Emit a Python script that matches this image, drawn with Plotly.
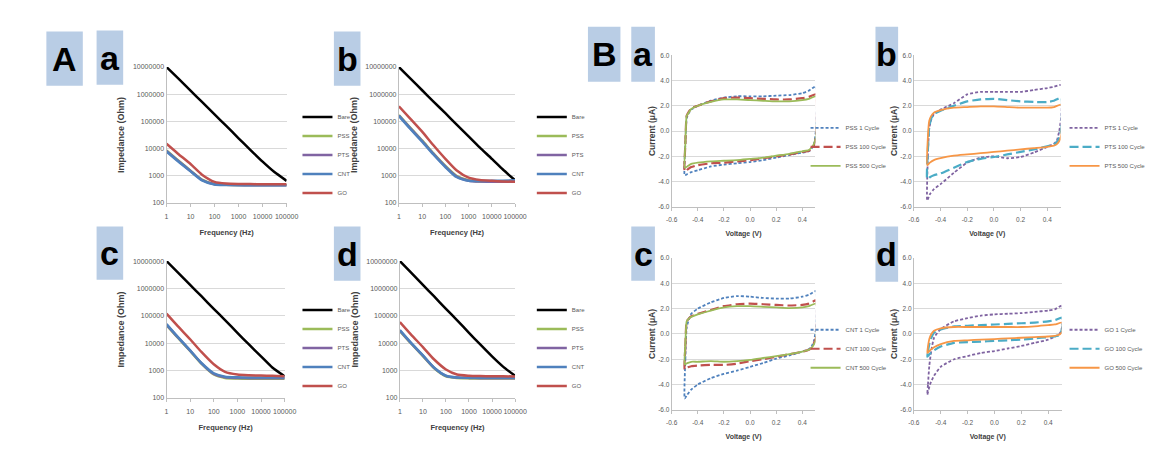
import plotly.graph_objects as go

# ---------------- Panel A : impedance vs frequency ----------------
FREQ = [1, 3, 10, 30, 100, 300, 1000, 3000, 10000, 30000, 100000]
FREQ_TICKS = [1, 10, 100, 1000, 10000, 100000]
FREQ_LABELS = ["1", "10", "100", "1000", "10000", "100000"]
Z_TICKS = [100, 1000, 10000, 100000, 1000000, 10000000]
Z_LABELS = ["100", "1000", "10000", "100000", "1000000", "10000000"]
SAMPLES = ["Bare", "PSS", "PTS", "CNT", "GO"]

# panel A-a
AA_BARE = [1.0e7, 3.9e6, 1.35e6, 5.2e5, 1.8e5, 7.0e4, 2.4e4, 9.2e3, 3.3e3, 1.4e3, 650]
AA_PSS = [8500, 3700, 1550, 720, 500, 470, 460, 455, 455, 455, 455]
AA_PTS = [8200, 3600, 1500, 700, 490, 465, 455, 450, 450, 450, 450]
AA_CNT = [7800, 3400, 1450, 680, 480, 460, 450, 445, 445, 445, 445]
AA_GO = [15000, 6500, 2700, 1100, 600, 520, 500, 495, 490, 490, 490]
# panel A-b
AB_BARE = [1.0e7, 3.9e6, 1.4e6, 5.5e5, 2.0e5, 7.8e4, 2.8e4, 1.1e4, 4.2e3, 1.7e3, 680]
AB_PSS = [1.7e5, 6.0e4, 2.0e4, 6.8e3, 2.3e3, 1.0e3, 680, 620, 610, 610, 600]
AB_PTS = [1.65e5, 5.8e4, 1.9e4, 6.5e3, 2.2e3, 950, 660, 610, 600, 600, 600]
AB_CNT = [1.6e5, 5.5e4, 1.8e4, 6.2e3, 2.1e3, 900, 650, 640, 650, 660, 680]
AB_GO = [3.6e5, 1.3e5, 4.2e4, 1.35e4, 4.2e3, 1.6e3, 850, 700, 650, 620, 600]
# panel A-c
AC_BARE = [1.0e7, 3.9e6, 1.35e6, 5.2e5, 1.8e5, 7.0e4, 2.4e4, 9.2e3, 3.3e3, 1.3e3, 620]
AC_PSS = [4.6e4, 1.6e4, 5.2e3, 1.8e3, 720, 540, 510, 500, 500, 500, 500]
AC_PTS = [4.8e4, 1.65e4, 5.4e3, 1.85e3, 760, 570, 540, 530, 530, 530, 530]
AC_CNT = [5.0e4, 1.7e4, 5.5e3, 1.9e3, 800, 600, 570, 560, 560, 560, 560]
AC_GO = [1.2e5, 4.2e4, 1.4e4, 4.8e3, 1.7e3, 900, 720, 680, 660, 650, 620]
# panel A-d
AD_BARE = [1.0e7, 3.9e6, 1.35e6, 5.2e5, 1.8e5, 7.0e4, 2.4e4, 9.2e3, 3.3e3, 1.4e3, 650]
AD_PSS = [2.8e4, 1.0e4, 3.4e3, 1.25e3, 620, 540, 520, 515, 510, 510, 510]
AD_PTS = [2.9e4, 1.02e4, 3.5e3, 1.28e3, 640, 555, 535, 530, 525, 525, 525]
AD_CNT = [3.0e4, 1.05e4, 3.6e3, 1.3e3, 650, 560, 550, 545, 545, 545, 545]
AD_GO = [5.9e4, 2.1e4, 7.2e3, 2.6e3, 1.1e3, 720, 650, 630, 620, 620, 610]

# ---------------- Panel B : cyclic voltammograms ----------------
V_TICKS = [-0.6, -0.4, -0.2, 0.0, 0.2, 0.4]
V_LABELS = ["-0.6", "-0.4", "-0.2", "0.0", "0.2", "0.4"]
I_TICKS = [-6, -4, -2, 0, 2, 4, 6]
I_LABELS = ["-6.0", "-4.0", "-2.0", "0.0", "2.0", "4.0", "6.0"]
COATINGS = ["PSS", "PTS", "CNT", "GO"]
CYCLES = ["1 Cycle", "100 Cycle", "500 Cycle"]

V_FWD = [-0.5, -0.495, -0.485, -0.47, -0.45, -0.4, -0.3, -0.2, -0.1, 0.0, 0.1, 0.2, 0.3, 0.4, 0.45, 0.505]
V_REV = [0.505, 0.49, 0.47, 0.45, 0.4, 0.3, 0.2, 0.1, 0.0, -0.1, -0.2, -0.3, -0.4, -0.45, -0.48, -0.5]

# B-a PSS
BA_1_FWD = [-3.5, -1.0, 1.0, 1.4, 1.7, 2.0, 2.4, 2.65, 2.75, 2.75, 2.75, 2.8, 2.85, 3.0, 3.2, 3.55]
BA_1_REV = [0.2, -1.0, -1.4, -1.6, -1.7, -1.9, -2.1, -2.3, -2.45, -2.55, -2.65, -2.8, -3.1, -3.25, -3.4, -3.5]
BA_100_FWD = [-3.2, -1.0, 1.2, 1.5, 1.8, 2.0, 2.35, 2.6, 2.65, 2.6, 2.55, 2.5, 2.5, 2.6, 2.7, 2.9]
BA_100_REV = [-0.4, -1.1, -1.4, -1.55, -1.65, -1.85, -2.0, -2.15, -2.3, -2.4, -2.5, -2.55, -2.7, -2.85, -3.05, -3.2]
BA_500_FWD = [-2.9, -1.0, 1.2, 1.45, 1.75, 2.0, 2.3, 2.5, 2.5, 2.45, 2.4, 2.35, 2.35, 2.45, 2.55, 2.75]
BA_500_REV = [-0.4, -1.0, -1.3, -1.5, -1.6, -1.8, -1.95, -2.1, -2.2, -2.3, -2.35, -2.4, -2.5, -2.6, -2.8, -2.9]
# B-b PTS
BB_1_FWD = [-5.5, -2.0, 0.2, 0.9, 1.35, 1.7, 2.2, 2.9, 3.1, 3.1, 3.1, 3.1, 3.25, 3.4, 3.5, 3.65]
BB_1_REV = [1.2, 0.0, -0.8, -1.0, -1.25, -1.7, -2.05, -2.15, -2.0, -2.1, -2.5, -3.3, -4.2, -4.6, -5.0, -5.5]
BB_100_FWD = [-3.8, -1.5, 0.3, 1.0, 1.35, 1.6, 2.0, 2.35, 2.5, 2.55, 2.45, 2.35, 2.3, 2.3, 2.4, 2.65]
BB_100_REV = [0.2, -0.5, -0.9, -1.05, -1.2, -1.45, -1.65, -1.85, -2.05, -2.2, -2.45, -2.9, -3.35, -3.5, -3.65, -3.8]
BB_500_FWD = [-2.7, -0.5, 0.8, 1.2, 1.45, 1.65, 1.85, 1.9, 1.95, 1.95, 1.9, 1.85, 1.85, 1.85, 1.9, 2.1]
BB_500_REV = [-0.3, -0.8, -1.05, -1.15, -1.25, -1.35, -1.45, -1.55, -1.65, -1.75, -1.85, -1.95, -2.15, -2.3, -2.5, -2.7]
# B-c CNT
BC_1_FWD = [-5.1, -2.0, 0.5, 1.1, 1.6, 2.0, 2.5, 2.85, 3.0, 2.95, 2.85, 2.8, 2.8, 2.95, 3.1, 3.4]
BC_1_REV = [0.5, -0.5, -1.0, -1.2, -1.4, -1.7, -1.95, -2.3, -2.6, -2.9, -3.15, -3.5, -4.0, -4.4, -4.8, -5.1]
BC_100_FWD = [-2.8, -1.0, 1.0, 1.2, 1.4, 1.6, 1.9, 2.2, 2.35, 2.4, 2.35, 2.3, 2.25, 2.3, 2.4, 2.65]
BC_100_REV = [-0.3, -0.7, -1.1, -1.25, -1.4, -1.6, -1.8, -2.0, -2.15, -2.35, -2.45, -2.45, -2.5, -2.55, -2.65, -2.8]
BC_500_FWD = [-2.4, -0.8, 1.0, 1.2, 1.35, 1.55, 1.85, 2.1, 2.2, 2.2, 2.15, 2.1, 2.05, 2.1, 2.2, 2.4]
BC_500_REV = [-0.4, -0.8, -1.1, -1.25, -1.4, -1.6, -1.75, -1.9, -2.05, -2.15, -2.2, -2.15, -2.2, -2.2, -2.3, -2.4]
# B-d GO
BD_1_FWD = [-4.8, -4.0, -2.5, -1.3, -0.3, 0.4, 1.0, 1.25, 1.45, 1.55, 1.6, 1.65, 1.75, 1.85, 1.95, 2.25]
BD_1_REV = [0.6, 0.1, -0.1, -0.2, -0.45, -0.7, -0.95, -1.15, -1.35, -1.5, -1.75, -2.0, -2.6, -3.3, -4.0, -4.8]
BD_100_FWD = [-1.8, -1.4, -0.8, -0.3, 0.1, 0.35, 0.6, 0.65, 0.7, 0.75, 0.8, 0.85, 0.9, 1.0, 1.1, 1.3]
BD_100_REV = [0.5, 0.0, -0.15, -0.2, -0.25, -0.35, -0.45, -0.5, -0.55, -0.6, -0.65, -0.7, -1.0, -1.3, -1.55, -1.8]
BD_500_FWD = [-1.5, -1.0, -0.4, 0.0, 0.25, 0.45, 0.55, 0.55, 0.55, 0.55, 0.55, 0.55, 0.6, 0.7, 0.75, 0.9]
BD_500_REV = [0.2, 0.0, -0.1, -0.15, -0.2, -0.25, -0.3, -0.35, -0.4, -0.45, -0.5, -0.55, -0.8, -1.05, -1.3, -1.5]

# ---------------- styling ----------------
W, H = 1175, 466
NARROW = "Liberation Sans Narrow, Arial Narrow, Liberation Sans, sans-serif"
GRID = "#d9d9d9"
AXLINE = "#bfbfbf"
TICKFONT = dict(family=NARROW, size=7, color="#595959")
TITLEFONT = dict(family=NARROW, size=7.5, color="#404040", weight="bold")
LEGFONT = dict(family=NARROW, size=6, color="#595959")
A_COLORS = ["#000000", "#9bbb59", "#8064a2", "#4f81bd", "#c0504d"]
B_COLORS_1 = ["#4f81bd", "#c0504d", "#9bbb59"]
B_COLORS_2 = ["#7f63a1", "#4bacc6", "#f79646"]
B_DASHES = ["3px,2px", "9px,4px", "solid"]


def xd(a, b):
    return [a / W, b / W]


def yd(top, bottom):
    return [1 - bottom / H, 1 - top / H]


fig = go.Figure()

A_PANELS = [
    [AA_BARE, AA_PSS, AA_PTS, AA_CNT, AA_GO],
    [AB_BARE, AB_PSS, AB_PTS, AB_CNT, AB_GO],
    [AC_BARE, AC_PSS, AC_PTS, AC_CNT, AC_GO],
    [AD_BARE, AD_PSS, AD_PTS, AD_CNT, AD_GO],
]
A_DOMS = [((163, 285), (64, 202)), ((399, 517), (64, 202)),
          ((163, 283), (261, 400)), ((400, 517), (261, 400))]
A_LEG = [(296, 100), (534, 100), (296, 296), (534, 296)]

layout = {}
for i, series in enumerate(A_PANELS):
    n = i + 1
    sfx = "" if n == 1 else str(n)
    leg = "legend" + sfx
    for name, vals, col in zip(SAMPLES, series, A_COLORS):
        fig.add_trace(go.Scatter(
            x=FREQ, y=vals, name=name, mode="lines",
            line=dict(color=col, width=2.5, shape="spline", smoothing=0.6),
            xaxis="x" + sfx, yaxis="y" + sfx, legend=leg))
    (x0, x1), (y0, y1) = A_DOMS[i]
    layout["xaxis" + sfx] = dict(
        domain=xd(x0, x1), anchor="y" + sfx, type="log", range=[0, 5],
        tickvals=FREQ_TICKS, ticktext=FREQ_LABELS, showgrid=False, tickangle=0,
        showline=True, linecolor=AXLINE, linewidth=1, ticks="outside",
        ticklen=3, tickcolor=AXLINE, tickfont=TICKFONT, zeroline=False,
        ticklabelstandoff=4,
        title=dict(text="Frequency (Hz)", font=TITLEFONT, standoff=10))
    layout["yaxis" + sfx] = dict(
        domain=yd(y0, y1), anchor="x" + sfx, type="log", range=[2, 7],
        tickvals=Z_TICKS, ticktext=Z_LABELS, showgrid=True, gridcolor=GRID,
        showline=True, linecolor=AXLINE, linewidth=1, ticks="",
        tickfont=TICKFONT, zeroline=False,
        title=dict(text="Impedance (Ohm)", font=dict(TITLEFONT, size=9), standoff=6))
    lx, ly = A_LEG[i]
    layout[leg] = dict(x=lx / W, y=1 - ly / H, xanchor="left", yanchor="top",
                       font=LEGFONT, bgcolor="rgba(0,0,0,0)", tracegroupgap=0)

B_PANELS = [
    [(BA_1_FWD, BA_1_REV), (BA_100_FWD, BA_100_REV), (BA_500_FWD, BA_500_REV)],
    [(BB_1_FWD, BB_1_REV), (BB_100_FWD, BB_100_REV), (BB_500_FWD, BB_500_REV)],
    [(BC_1_FWD, BC_1_REV), (BC_100_FWD, BC_100_REV), (BC_500_FWD, BC_500_REV)],
    [(BD_1_FWD, BD_1_REV), (BD_100_FWD, BD_100_REV), (BD_500_FWD, BD_500_REV)],
]
B_DOMS = [((676, 822), (52, 206)), ((922, 1071), (52, 206)),
          ((676, 822), (258, 412)), ((922, 1072), (258, 412))]
B_LEG = [(812, 111), (1075, 111), (812, 316), (1075, 316)]
B_COLS = [B_COLORS_1, B_COLORS_2, B_COLORS_1, B_COLORS_2]

for i, series in enumerate(B_PANELS):
    n = i + 5
    sfx = str(n)
    leg = "legend" + sfx
    for j, (fwd, rev) in enumerate(series):
        fig.add_trace(go.Scatter(
            x=V_FWD + V_REV, y=fwd + rev,
            name=COATINGS[i] + " " + CYCLES[j], mode="lines",
            line=dict(color=B_COLS[i][j], width=2.2 if j == 1 else 1.8,
                      dash=B_DASHES[j], shape="spline", smoothing=0.5),
            xaxis="x" + sfx, yaxis="y" + sfx, legend=leg))
    (x0, x1), (y0, y1) = B_DOMS[i]
    layout["xaxis" + sfx] = dict(
        domain=xd(x0, x1), anchor="y" + sfx, range=[-0.6, 0.5], tickangle=0,
        tickvals=V_TICKS, ticktext=V_LABELS, showgrid=False,
        showline=True, linecolor=AXLINE, linewidth=1, ticks="outside",
        ticklen=3, tickcolor=AXLINE, tickfont=dict(TICKFONT, size=6.5), zeroline=False,
        ticklabelstandoff=3,
        title=dict(text="Voltage (V)", font=dict(TITLEFONT, size=7), standoff=9))
    layout["yaxis" + sfx] = dict(
        domain=yd(y0, y1), anchor="x" + sfx, range=[-6, 6],
        tickvals=I_TICKS, ticktext=I_LABELS, showgrid=True, gridcolor=GRID,
        showline=True, linecolor=AXLINE, linewidth=1, ticks="",
        tickfont=dict(TICKFONT, size=6.5), zeroline=False,
        title=dict(text="Current (μA)", font=dict(TITLEFONT, size=8.5), standoff=1))
    lx, ly = B_LEG[i]
    layout[leg] = dict(x=lx / W, y=1 - ly / H, xanchor="left", yanchor="top",
                       font=LEGFONT, bgcolor="rgba(0,0,0,0)", tracegroupgap=0)

# panel label boxes
BOX_TEXT = ["A", "a", "b", "c", "d", "B", "a", "b", "c", "d"]
BOX_POS = [(41, 78, 28, 83), (92, 119, 27, 82), (333, 360, 28, 83),
           (92, 119, 226, 280), (333, 360, 226, 281),
           (591, 624, 23, 79), (635, 659, 23, 79), (883, 906, 23, 79),
           (635, 659, 226, 281), (883, 906, 226, 282)]
shapes, annotations = [], []
for txt, (x0, x1, y0, y1) in zip(BOX_TEXT, BOX_POS):
    shapes.append(dict(type="rect", xref="paper", yref="paper",
                       x0=x0 / W, x1=x1 / W, y0=1 - y1 / H, y1=1 - y0 / H,
                       fillcolor="#b9cde5", line=dict(width=0), layer="below"))
    annotations.append(dict(text=txt, xref="paper", yref="paper",
                            x=(x0 + x1) / 2 / W, y=1 - (y0 + y1) / 2 / H,
                            xanchor="center", yanchor="middle", showarrow=False,
                            font=dict(family=NARROW, size=34, color="#000000", weight="bold")))

fig.update_layout(
    autosize=True, margin=dict(l=0, r=0, t=0, b=0),
    paper_bgcolor="white", plot_bgcolor="white", showlegend=True,
    hovermode=False, shapes=shapes, annotations=annotations, **layout)

fig.write_html(
    "out.html",
    config=dict(staticPlot=True, displayModeBar=False),
    default_width="100vw", default_height="100vh",
    post_script="document.documentElement.style.overflow='hidden';"
                "document.body.style.margin='0';document.body.style.overflow='hidden';")
